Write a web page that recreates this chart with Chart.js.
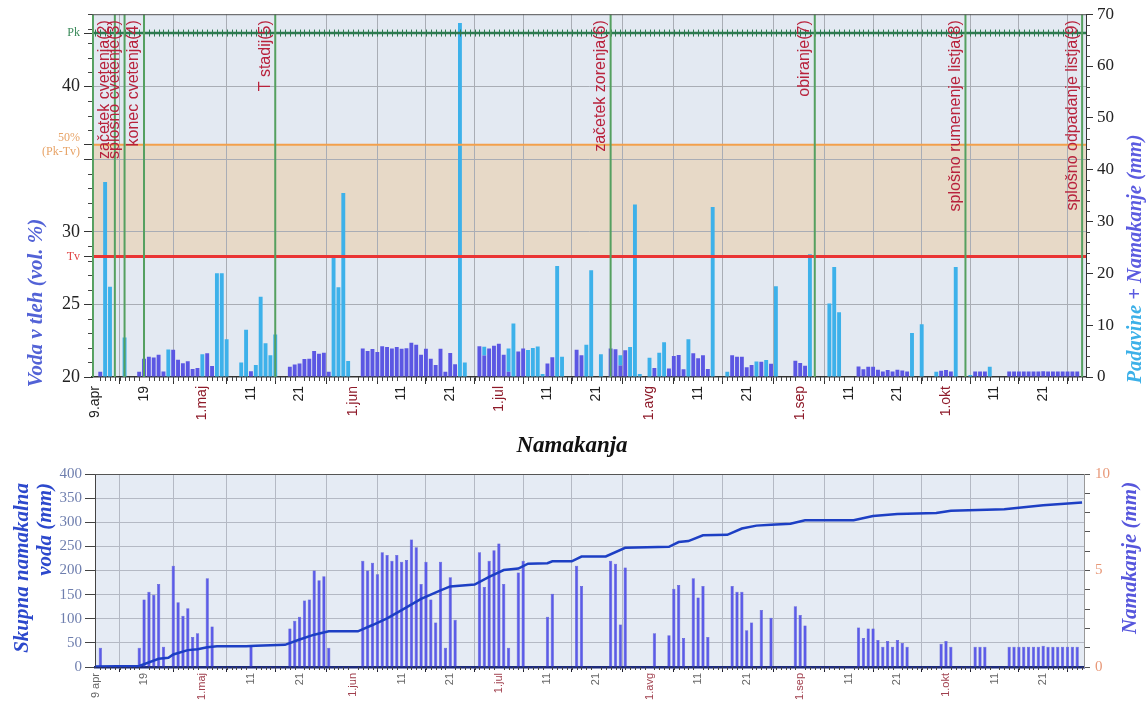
<!DOCTYPE html>
<html>
<head>
<meta charset="utf-8">
<script src="https://cdn.jsdelivr.net/npm/chart.js@4.4.1/dist/chart.umd.min.js"></script>
<style>
    html, body { margin: 0; padding: 0; background: #fff; }
    canvas { position: absolute; left: 0; }
    #soilChart { top: 0; }
    #irrigationChart { top: 460px; }
</style>
</head>
<body>
<canvas id="soilChart" width="1148" height="460"></canvas>
<canvas id="irrigationChart" width="1148" height="250"></canvas>
<script>
// day 0 = 9. april
const tickDays = [0, 10, 22, 32, 42, 53, 63, 73, 83, 93, 103, 114, 124, 134, 145, 155, 165, 175, 185, 195];
const tickLabels = ['9.apr', '19', '1.maj', '11', '21', '1.jun', '11', '21', '1.jul', '11', '21', '1.avg', '11', '21', '1.sep', '11', '21', '1.okt', '11', '21'];

// phenological stages
const stageDays = [-0.5, 4, 6, 10, 37, 106, 148, 179, 203];
const stageLabels = ['', 'začetek cvetenja(2)', 'splošno cvetenje(3)', 'konec cvetenja(4)', 'T stadij(5)',
    'začetek zorenja(6)', 'obiranje(7)', 'splošno rumenenje listja(8)', 'splošno odpadanje listja(9)'];

// soil water limits (vol. %)
const fieldCapacity = 43.7;   // Pk
const wiltingPoint = 28.3;    // Tv
const halfLevel = 36.0;       // 50% (Pk-Tv)

// daily irrigation [day, mm]
const irrigation = [
    [1, 1.0], [9, 1.0], [10, 3.5], [11, 3.9], [12, 3.75], [13, 4.3], [14, 1.05], [16, 5.25], [17, 3.35],
    [18, 2.65], [19, 3.05], [20, 1.55], [21, 1.75], [23, 4.6], [24, 2.1], [32, 1.1],
    [40, 2.0], [41, 2.4], [42, 2.6], [43, 3.45], [44, 3.5], [45, 5.0], [46, 4.5], [47, 4.7], [48, 1.0],
    [55, 5.5], [56, 5.0], [57, 5.4], [58, 4.8], [59, 5.95], [60, 5.8], [61, 5.5], [62, 5.8], [63, 5.45],
    [64, 5.55], [65, 6.6], [66, 6.2], [67, 4.3], [68, 5.45], [69, 3.5], [70, 2.3], [71, 5.45], [72, 1.0],
    [73, 4.65], [74, 2.45], [79, 5.95], [80, 4.15], [81, 5.5], [82, 6.05], [83, 6.4], [84, 4.3], [85, 1.0],
    [87, 4.9], [88, 5.5], [93, 2.6], [94, 3.8], [99, 5.25], [100, 4.2], [106, 5.5], [107, 5.35], [108, 2.2],
    [109, 5.15], [115, 1.75], [118, 1.65], [119, 4.05], [120, 4.25], [121, 1.5], [123, 4.6], [124, 3.6],
    [125, 4.2], [126, 1.55], [131, 4.2], [132, 3.9], [133, 3.9], [134, 1.9], [135, 2.3], [137, 2.95],
    [139, 2.55], [144, 3.15], [145, 2.7], [146, 2.15], [157, 2.05], [158, 1.5], [159, 2.0], [160, 2.0],
    [161, 1.4], [162, 1.05], [163, 1.35], [164, 1.05], [165, 1.4], [166, 1.25], [167, 1.05], [174, 1.2],
    [175, 1.35], [176, 1.05], [181, 1.05], [182, 1.05], [183, 1.05], [188, 1.05], [189, 1.05], [190, 1.05],
    [191, 1.05], [192, 1.05], [193, 1.05], [194, 1.05], [195, 1.1], [196, 1.05], [197, 1.05], [198, 1.05],
    [199, 1.05], [200, 1.05], [201, 1.05], [202, 1.05]
];

// daily rain [day, mm]
const rain = [
    [2, 37.6], [3, 17.4], [6, 7.6], [15, 5.3], [22, 4.4], [25, 20.0], [26, 20.0], [27, 7.3], [30, 2.8],
    [31, 9.1], [33, 2.3], [34, 15.5], [35, 6.5], [36, 4.2], [37, 8.2], [49, 23.0], [50, 17.3], [51, 35.5],
    [52, 3.1], [75, 68.3], [76, 2.8], [80, 1.7], [85, 4.5], [86, 10.3], [89, 5.2], [90, 5.6], [91, 5.9],
    [92, 0.6], [95, 21.4], [96, 3.9], [101, 6.2], [102, 20.6], [104, 4.4], [108, 2.0], [110, 5.8],
    [111, 33.3], [112, 0.6], [114, 3.7], [116, 4.7], [117, 6.7], [122, 7.3], [127, 32.8], [130, 1.0],
    [136, 3.0], [138, 3.3], [140, 17.5], [147, 23.7], [151, 14.2], [152, 21.2], [153, 12.5], [168, 8.5],
    [170, 10.2], [173, 1.0], [177, 21.2], [180, 0.4], [184, 2.0]
];

// total irrigation water (mm)
const totalDays = [0, 9, 13, 15, 16, 19, 21, 23, 25, 31, 33, 39, 42, 45, 48, 54, 57, 60, 63, 67, 71, 73, 78,
    81, 84, 87, 89, 93, 94, 98, 100, 105, 109, 118, 120, 122, 125, 130, 133, 136, 139, 143, 146, 156, 160,
    165, 173, 176, 187, 195, 203];
const totalWater = [1, 2, 17, 19, 26, 35, 37, 41, 43, 43, 44, 46, 57, 67, 74, 74, 87, 101, 118, 141, 159,
    167, 171, 187, 201, 204, 214, 215, 219, 219, 229, 229, 247, 249, 259, 261, 273, 274, 287, 293, 295, 297,
    304, 304, 313, 317, 319, 324, 327, 335, 341];

const SERIF = '"Liberation Serif", "Times New Roman", serif';
const SANS = '"Liberation Sans", Arial, sans-serif';
const toPoints = pairs => pairs.map(([d, v]) => ({x: d, y: v}));
const isMonth = i => (tickLabels[i] || '').startsWith('1.');
const tickValue = c => (c && c.tick ? c.tick.value : null);

function hLine(ctx, area, y, color, width) {
    ctx.strokeStyle = color;
    ctx.lineWidth = width;
    ctx.beginPath();
    ctx.moveTo(area.left, y);
    ctx.lineTo(area.right, y);
    ctx.stroke();
}

// text drawn along the axis, several coloured parts in one run
function drawTitle(ctx, t) {
    ctx.save();
    ctx.translate(t.x, t.y);
    if (t.rotate) ctx.rotate(-Math.PI / 2);
    ctx.font = t.font;
    ctx.textBaseline = 'middle';
    ctx.textAlign = 'left';
    const total = t.parts.reduce((w, p) => w + ctx.measureText(p[0]).width, 0);
    let pos = t.anchor === 'end' ? -total : -total / 2;
    for (const [text, color] of t.parts) {
        ctx.fillStyle = color;
        ctx.fillText(text, pos, 0);
        pos += ctx.measureText(text).width;
    }
    ctx.restore();
}

function axisTitles(items) {
    return {
        id: 'axisTitles',
        afterDraw(chart) {
            items.forEach(t => drawTitle(chart.ctx, t));
        }
    };
}

function minorTicks(specs) {
    return {
        id: 'minorTicks',
        afterDraw(chart) {
            const ctx = chart.ctx;
            ctx.save();
            ctx.strokeStyle = '#444';
            ctx.lineWidth = 1;
            for (const s of specs) {
                const scale = chart.scales[s.axis];
                const majors = scale.ticks.map(t => t.value);
                for (let v = Math.ceil(scale.min / s.step) * s.step; v <= scale.max; v += s.step) {
                    if (majors.some(m => Math.abs(m - v) < 1e-6)) continue;
                    const p = Math.round(scale.getPixelForValue(v)) + 0.5;
                    ctx.beginPath();
                    if (s.axis === 'x') {
                        ctx.moveTo(p, scale.top);
                        ctx.lineTo(p, scale.top + s.len);
                    } else if (scale.position === 'left') {
                        ctx.moveTo(scale.right - s.len, p);
                        ctx.lineTo(scale.right, p);
                    } else {
                        ctx.moveTo(scale.left, p);
                        ctx.lineTo(scale.left + s.len, p);
                    }
                    ctx.stroke();
                }
            }
            ctx.restore();
        }
    };
}

function plotFrame(color) {
    return {
        id: 'plotFrame',
        afterDraw(chart) {
            const {ctx, chartArea: a} = chart;
            ctx.save();
            ctx.strokeStyle = color;
            ctx.lineWidth = 1;
            ctx.beginPath();
            ctx.moveTo(a.left, a.top + 0.5);
            ctx.lineTo(a.right, a.top + 0.5);
            ctx.stroke();
            ctx.restore();
        }
    };
}

const soilLevels = {
    id: 'soilLevels',
    beforeDraw(chart) {
        const {ctx, chartArea: a, scales: {y}} = chart;
        const yHalf = y.getPixelForValue(halfLevel);
        const yTv = y.getPixelForValue(wiltingPoint);
        ctx.save();
        ctx.fillStyle = '#e3e9f2';
        ctx.fillRect(a.left, a.top, a.width, a.height);
        ctx.fillStyle = '#e7d9c7';
        ctx.fillRect(a.left, yHalf, a.width, yTv - yHalf);
        ctx.restore();
    },
    afterDatasetsDraw(chart) {
        const {ctx, chartArea: a, scales: {x, y}} = chart;
        ctx.save();
        ctx.beginPath();
        ctx.rect(a.left, a.top, a.width, a.height);
        ctx.clip();
        hLine(ctx, a, y.getPixelForValue(halfLevel), '#f3a04c', 2);
        hLine(ctx, a, y.getPixelForValue(wiltingPoint), '#ea3434', 3);

        const yPk = y.getPixelForValue(fieldCapacity);
        hLine(ctx, a, yPk, '#2d7a50', 2.5);
        ctx.lineWidth = 1;
        for (let d = Math.ceil(x.min); d <= x.max; d++) {
            const xp = Math.round(x.getPixelForValue(d)) + 0.5;
            ctx.beginPath();
            ctx.moveTo(xp, yPk - 3.5);
            ctx.lineTo(xp, yPk + 3.5);
            ctx.stroke();
        }

        stageDays.forEach((d, i) => {
            const xp = x.getPixelForValue(d);
            ctx.strokeStyle = '#55a060';
            ctx.lineWidth = 2;
            ctx.beginPath();
            ctx.moveTo(xp, a.top);
            ctx.lineTo(xp, a.bottom);
            ctx.stroke();
            if (!stageLabels[i]) return;
            ctx.save();
            ctx.translate(xp - 2, a.top + 6);
            ctx.rotate(-Math.PI / 2);
            ctx.font = '16px ' + SANS;
            ctx.fillStyle = '#b8223c';
            ctx.textAlign = 'right';
            ctx.textBaseline = 'bottom';
            ctx.fillText(stageLabels[i], 0, 0);
            ctx.restore();
        });
        ctx.restore();
    }
};

const leftTicks = [20, 25, 30, 35, 40, wiltingPoint, halfLevel, fieldCapacity];
const limitTicks = [fieldCapacity, wiltingPoint, halfLevel];
function leftTickText(v) {
    if (v === fieldCapacity) return 'Pk';
    if (v === wiltingPoint) return 'Tv';
    if (v === halfLevel) return ['50%', '(Pk-Tv)'];
    return v === 35 ? '' : String(v);
}
const leftTickColor = v => v === fieldCapacity ? '#3a8a5a' : v === wiltingPoint ? '#e04444'
    : v === halfLevel ? '#e8a468' : '#222';

new Chart(document.getElementById('soilChart'), {
    type: 'bar',
    data: {
        datasets: [{
            label: 'Namakanje',
            data: toPoints(irrigation),
            backgroundColor: '#5b57e3',
            yAxisID: 'y1',
            stack: 'water',
            barPercentage: 0.8,
            categoryPercentage: 1
        }, {
            label: 'Padavine',
            data: toPoints(rain),
            backgroundColor: '#3db1ea',
            yAxisID: 'y1',
            stack: 'water',
            barPercentage: 0.8,
            categoryPercentage: 1
        }]
    },
    options: {
        responsive: false,
        animation: false,
        layout: {padding: {top: 14, left: 0, right: 0, bottom: 0}},
        plugins: {legend: {display: false}, tooltip: {enabled: false}},
        scales: {
            x: {
                type: 'linear', min: -0.7, max: 203.8, offset: false, stacked: true,
                afterBuildTicks: s => { s.ticks = tickDays.map(v => ({value: v})); },
                afterFit: s => { s.height = 83; },
                ticks: {
                    autoSkip: false, minRotation: 90, maxRotation: 90, padding: 2,
                    callback: (v, i) => tickLabels[i],
                    color: c => isMonth(c.index) ? '#8e1b2a' : '#222',
                    font: {family: SANS, size: 14}
                },
                grid: {color: '#a9adb5', tickLength: 7, tickColor: '#333'},
                border: {color: '#333', width: 1.5}
            },
            y: {
                position: 'left', min: 20, max: 45,
                afterBuildTicks: s => { s.ticks = leftTicks.map(v => ({value: v})); },
                afterFit: s => { s.width = 92; },
                ticks: {
                    autoSkip: false, padding: 4,
                    callback: v => leftTickText(v),
                    color: c => leftTickColor(tickValue(c)),
                    font: c => ({family: SERIF, size: limitTicks.includes(tickValue(c)) ? 12 : 18})
                },
                grid: {
                    color: c => [25, 30, 35, 40].includes(tickValue(c)) ? '#a9adb5' : 'rgba(0,0,0,0)',
                    tickLength: 8, tickColor: '#333'
                },
                border: {color: '#333'}
            },
            y1: {
                position: 'right', min: 0, max: 70, stacked: true,
                afterFit: s => { s.width = 62; },
                ticks: {stepSize: 10, padding: 4, color: '#222', font: {family: SERIF, size: 17}},
                grid: {drawOnChartArea: false, tickLength: 7, tickColor: '#333'},
                border: {color: '#333'}
            }
        }
    },
    plugins: [
        soilLevels,
        plotFrame('#555'),
        minorTicks([
            {axis: 'x', step: 1, len: 4},
            {axis: 'y', step: 1, len: 4},
            {axis: 'y1', step: 2, len: 4}
        ]),
        axisTitles([
            {parts: [['Voda v tleh (vol. %)', '#5262d6']], x: 37, y: 303, rotate: true,
                font: 'italic bold 21px ' + SERIF},
            {parts: [['Padavine', '#3cb0e8'], [' + Namakanje (mm)', '#5b5be0']], x: 1136, y: 259, rotate: true,
                font: 'italic bold 20.5px ' + SERIF},
            {parts: [['Namakanja', '#111']], x: 572, y: 446, rotate: false,
                font: 'italic bold 23px ' + SERIF}
        ])
    ]
});

const plotBackground = {
    id: 'plotBackground',
    beforeDraw(chart) {
        const {ctx, chartArea: a} = chart;
        ctx.save();
        ctx.fillStyle = '#e5ebf4';
        ctx.fillRect(a.left, a.top, a.width, a.height);
        ctx.restore();
    }
};

new Chart(document.getElementById('irrigationChart'), {
    type: 'bar',
    data: {
        datasets: [{
            type: 'line',
            label: 'Skupna namakalna voda',
            data: totalDays.map((d, i) => ({x: d, y: totalWater[i]})),
            yAxisID: 'y',
            borderColor: '#1d3fc4',
            borderWidth: 2.5,
            pointRadius: 0,
            tension: 0
        }, {
            label: 'Namakanje',
            data: toPoints(irrigation),
            yAxisID: 'y1',
            backgroundColor: '#5b5be8',
            borderColor: '#4545cc',
            borderWidth: 0.5,
            barPercentage: 0.66,
            categoryPercentage: 1
        }]
    },
    options: {
        responsive: false,
        animation: false,
        layout: {padding: {top: 8, left: 0, right: 0, bottom: 0}},
        plugins: {legend: {display: false}, tooltip: {enabled: false}},
        scales: {
            x: {
                type: 'linear', min: -0.1, max: 203.4, offset: false,
                afterBuildTicks: s => { s.ticks = tickDays.map(v => ({value: v})); },
                afterFit: s => { s.height = 43; },
                ticks: {
                    autoSkip: false, minRotation: 90, maxRotation: 90, padding: 1,
                    callback: (v, i) => i === 0 ? '9 apr' : tickLabels[i],
                    color: c => isMonth(c.index) ? '#a0404e' : '#666',
                    font: {family: SANS, size: 11}
                },
                grid: {color: '#b4b9c4', tickLength: 5, tickColor: '#223'},
                border: {color: '#1c2a7a', width: 2.5}
            },
            y: {
                position: 'left', min: 0, max: 400,
                afterFit: s => { s.width = 95; },
                ticks: {stepSize: 50, padding: 3, color: '#6e7eae', font: {family: SERIF, size: 15}},
                grid: {color: '#b4b9c4', tickLength: 10, tickColor: '#444'},
                border: {color: '#444'}
            },
            y1: {
                position: 'right', min: 0, max: 10,
                afterFit: s => { s.width = 64; },
                ticks: {
                    autoSkip: false, stepSize: 1, padding: 5, color: '#e89878', font: {family: SERIF, size: 15},
                    callback: v => v % 5 === 0 ? String(v) : ''
                },
                grid: {drawOnChartArea: false, tickLength: 6, tickColor: '#555'},
                border: {color: '#999'}
            }
        }
    },
    plugins: [
        plotBackground,
        plotFrame('#555'),
        minorTicks([{axis: 'x', step: 1, len: 3}]),
        axisTitles([
            {parts: [['Skupna namakalna', '#2c48cc']], x: 23, y: 23, rotate: true, anchor: 'end',
                font: 'italic bold 21px ' + SERIF},
            {parts: [['voda (mm)', '#2c48cc']], x: 46, y: 23, rotate: true, anchor: 'end',
                font: 'italic bold 21px ' + SERIF},
            {parts: [['Namakanje (mm)', '#5656dc']], x: 1131, y: 98, rotate: true,
                font: 'italic bold 21px ' + SERIF}
        ])
    ]
});
</script>
</body>
</html>
